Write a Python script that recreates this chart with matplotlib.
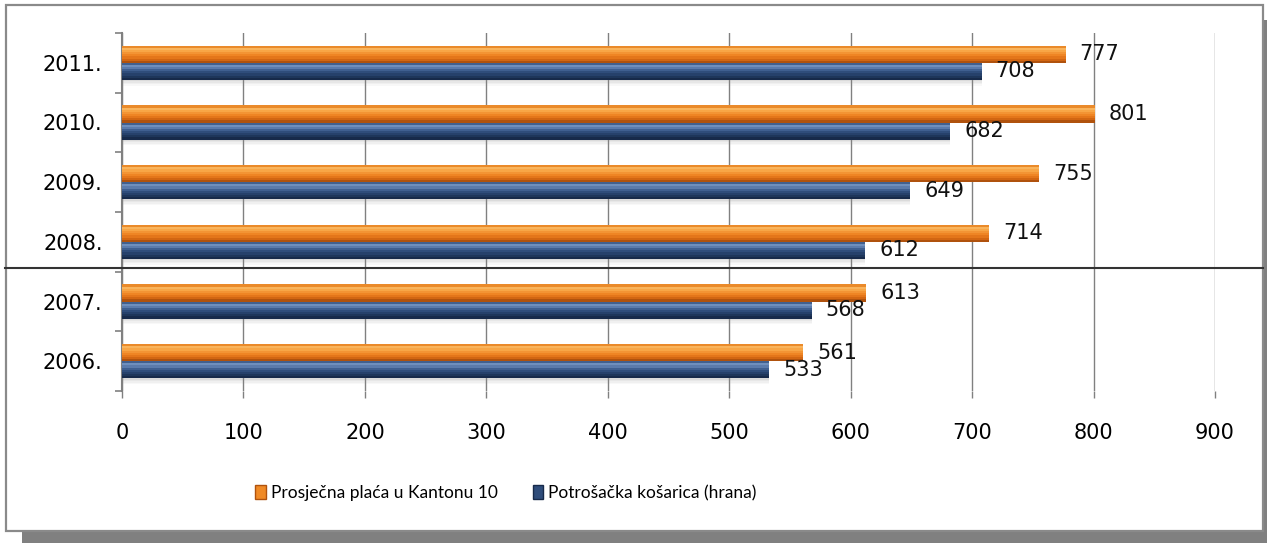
import numpy as np
import matplotlib
matplotlib.use("Agg")
import matplotlib.pyplot as plt
from matplotlib.patches import Rectangle, Patch
from matplotlib.lines import Line2D

plt.rcParams["font.family"] = ["DejaVu Sans"]

years = ["2006.", "2007.", "2008.", "2009.", "2010.", "2011."]
placa = [561, 613, 714, 755, 801, 777]
kosarica = [533, 568, 612, 649, 682, 708]
names = ["Prosječna plaća u Kantonu 10", "Potrošačka košarica (hrana)"]

# vertical colour profiles (top -> bottom) to fake Excel's bevelled bars
orange_prof = ["#ea8a2a", "#f9b45c", "#f8a646", "#f39434", "#ef8524",
               "#e4761a", "#d26612", "#b0520d"]
navy_prof = ["#42608e", "#6f8fbd", "#5b7bac", "#3f5f90", "#2f4d7b",
             "#26416b", "#1e365a", "#172a4a"]

fig = plt.figure(figsize=(12.67, 5.43), dpi=100)
ax = fig.add_axes([122 / 1267, 1 - 391 / 543, 1093 / 1267, 358 / 543])

y = np.arange(len(years))
h = 0.285
yo = y + h / 2
yn = y - h / 2

# soft shadow under the bars
for k, a in enumerate([0.30, 0.20, 0.12, 0.06]):
    ax.barh(yn - h / 2 - 0.025 * (k + 0.5), kosarica, height=0.025, color="#8a8a8a",
            alpha=a, linewidth=0, zorder=2)

n = len(orange_prof)
sh = h / n
for k in range(n):
    off = h / 2 - sh * (k + 0.5)
    ax.barh(yo + off, placa, height=sh * 1.02, color=orange_prof[k], linewidth=0, zorder=3)
    ax.barh(yn + off, kosarica, height=sh * 1.02, color=navy_prof[k], linewidth=0, zorder=3)

for yy, v in zip(yo, placa):
    ax.annotate(str(v), (v, yy), xytext=(10, 0), textcoords="offset points",
                ha="left", va="center", fontsize=15, color="#111111")
for yy, v in zip(yn, kosarica):
    ax.annotate(str(v), (v, yy), xytext=(10, 0), textcoords="offset points",
                ha="left", va="center", fontsize=15, color="#111111")

ax.set_xlim(0, 900)
ax.set_ylim(-0.5, len(years) - 0.5)
ax.set_xticks(range(0, 1000, 100))
ax.set_yticks(y)
ax.set_yticklabels(years)
ax.set_yticks(np.arange(-0.5, len(years)), minor=True)
ax.tick_params(axis="y", which="major", length=0, pad=14, labelsize=15)
ax.tick_params(axis="y", which="minor", length=5, width=1.2, color="#808080")
ax.tick_params(axis="x", length=5, width=1, color="#808080", labelsize=15, pad=18)
ax.grid(axis="x", color="#808080", linewidth=1, zorder=0)
ax.set_axisbelow(True)
for s in ["top", "right", "bottom"]:
    ax.spines[s].set_visible(False)
ax.spines["left"].set_color("#808080")
ax.spines["left"].set_linewidth(1.5)

# legend
handles = [Patch(facecolor="#f08a26", edgecolor="#b0520d"),
           Patch(facecolor="#2f4d7b", edgecolor="#172a4a")]
fig.legend(handles, names, loc="center", bbox_to_anchor=(506 / 1267, 1 - 493 / 543), ncol=2,
           frameon=False, handlelength=0.6, handleheight=0.8, handletextpad=0.3,
           columnspacing=2.0, prop={"family": ["Lato", "DejaVu Sans"], "size": 12.5})

# frame with shadow
fig.patches.append(Rectangle((22 / 1267, 0), 1 - 22 / 1267, 12 / 543, transform=fig.transFigure,
                             facecolor="#808080", edgecolor="none", zorder=-2))
fig.patches.append(Rectangle((1263 / 1267, 0), 4 / 1267, 1 - 20 / 543, transform=fig.transFigure,
                             facecolor="#808080", edgecolor="none", zorder=-2))
fig.patches.append(Rectangle((6 / 1267, 12 / 543), 1257 / 1267, 526 / 543, transform=fig.transFigure,
                             facecolor="white", edgecolor="#8a8a8a", linewidth=1.6, zorder=-1))

# dark horizontal line across the figure
fig.lines.append(Line2D([5 / 1267, 1263 / 1267], [1 - 267.5 / 543] * 2, transform=fig.transFigure,
                        color="#333333", linewidth=1.5, zorder=5))

fig.savefig("out.png", dpi=100)
